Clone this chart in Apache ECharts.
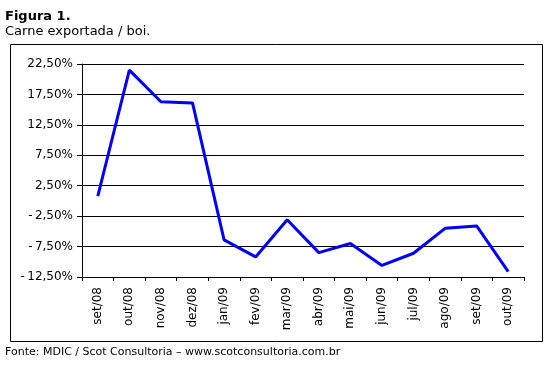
<!DOCTYPE html>
<html><head><meta charset="utf-8">
<script src="https://cdn.jsdelivr.net/npm/echarts@6/dist/echarts.min.js"></script>
<style>html,body{margin:0;padding:0;background:#fff}#c{width:555px;height:368px}</style>
</head><body><div id="c"></div>
<script>
var categories = ['set/08','out/08','nov/08','dez/08','jan/09','fev/09','mar/09','abr/09','mai/09','jun/09','jul/09','ago/09','set/09','out/09'];
var values = [0.8, 21.5, 16.3, 16.1, -6.4, -9.2, -3.1, -8.5, -7.0, -10.6, -8.6, -4.5, -4.1, -11.6];
var yTicks = [-12.5, -7.5, -2.5, 2.5, 7.5, 12.5, 17.5, 22.5];
var titleText = 'Figura 1.';
var subtitleText = 'Carne exportada / boi.';
var sourceText = 'Fonte: MDIC / Scot Consultoria \u2013 www.scotconsultoria.com.br';

var FONT = 'Verdana, "DejaVu Sans", sans-serif';
var chart = echarts.init(document.getElementById('c'), null, {renderer:'canvas'});
chart.setOption({
  animation: false,
  backgroundColor: '#fff',
  textStyle: {fontFamily: FONT},
  graphic: [
    {type:'rect', shape:{x:10.5, y:44.5, width:532, height:297}, style:{fill:'none', stroke:'#000', lineWidth:1}, z:-1},
    {type:'text', left:5, top:10, style:{text:titleText, font:'bold 13px ' + FONT, fill:'#000'}},
    {type:'text', left:5, top:25, style:{text:subtitleText, font:'13px ' + FONT, fill:'#000'}},
    {type:'text', left:5, top:347, style:{text:sourceText, font:'11px ' + FONT, fill:'#000'}}
  ],
  grid: {left:82, right:31, top:64, bottom:91, containLabel:false},
  xAxis: {
    type:'category', data: categories, boundaryGap:true,
    axisLine:{show:true, onZero:false, lineStyle:{color:'#000', width:1}},
    axisTick:{show:true, length:4, alignWithLabel:false, lineStyle:{color:'#000'}},
    axisLabel:{rotate:90, margin:10, color:'#000', fontSize:12, fontFamily:FONT, interval:0},
    splitLine:{show:false}
  },
  yAxis: {
    type:'value', min:-12.5, max:22.5, interval:5,
    axisLine:{show:true, lineStyle:{color:'#000', width:1}},
    axisTick:{show:true, length:5, lineStyle:{color:'#000'}},
    axisLabel:{margin:9, color:'#000', fontSize:12, fontFamily:FONT,
      customValues: yTicks,
      formatter:function(v){
        var s = Math.abs(v).toFixed(2).replace('.', ',') + '%';
        return v < 0 ? '-\u2009' + s : s;
      }},
    splitLine:{show:true, lineStyle:{color:'#000', width:1}}
  },
  series: [{
    type:'line', data: values, symbol:'none',
    lineStyle:{color:'#0000FF', width:3},
    itemStyle:{color:'#0000FF'}
  }]
});
</script></body></html>
